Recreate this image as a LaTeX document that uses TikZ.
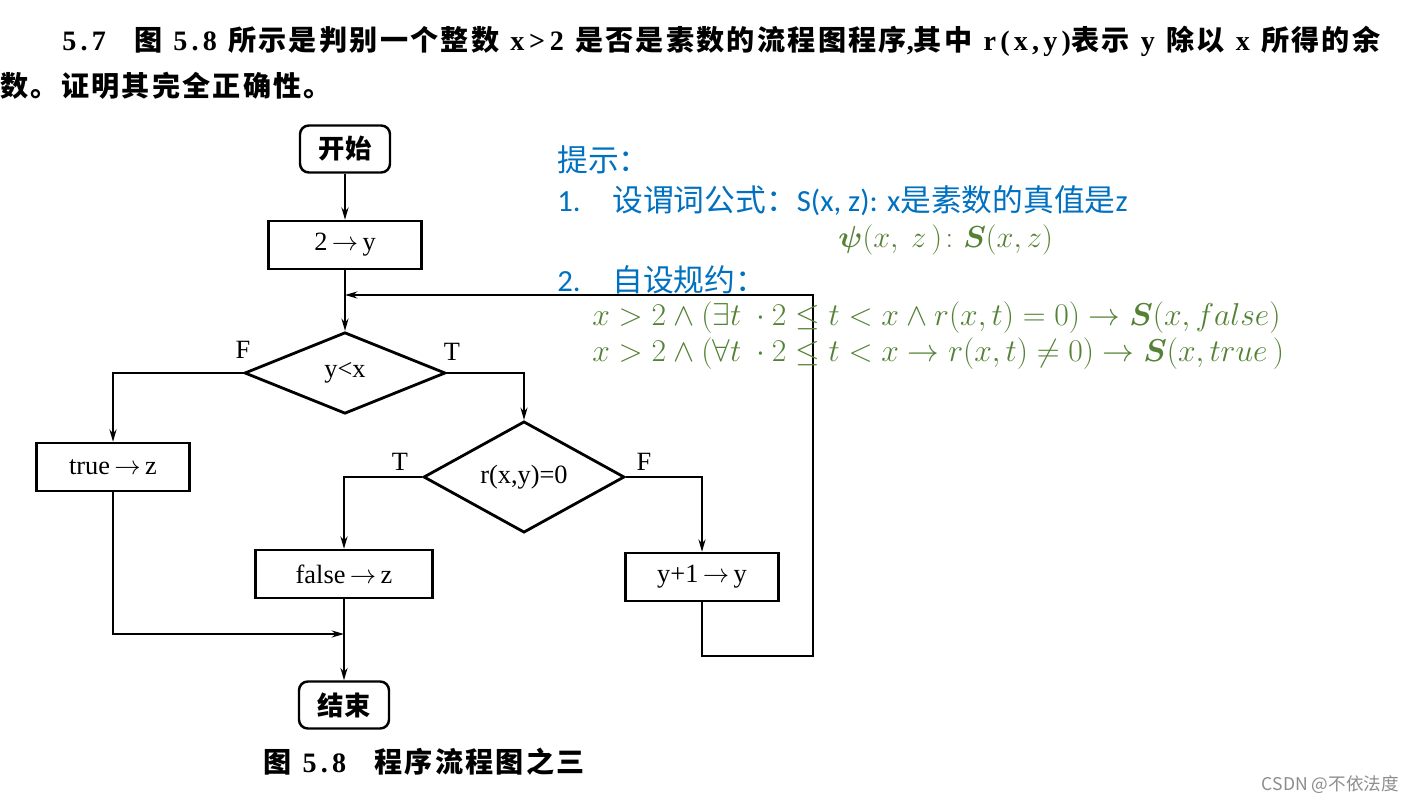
\RequirePackage{fix-cm}
\documentclass[tikz,border=0pt]{standalone}
\usepackage{amsmath,amssymb}
\usepackage[no-math]{fontspec}
\setmainfont{Liberation Serif}
\newfontfamily\cjk{Noto Sans CJK SC}
\newfontfamily\cjkq{Noto Sans CJK SC}[LetterSpace=8]
\newfontfamily\latq{Liberation Serif}[LetterSpace=15]
\newfontfamily\hintfont{Carlito}
\usetikzlibrary{shapes.geometric,arrows.meta}
\definecolor{hblue}{RGB}{0,112,192}
\definecolor{hgreen}{RGB}{84,130,53}
\definecolor{wmark}{RGB}{140,140,140}
\newcommand{\zh}[1]{{\cjk\bfseries #1}}
\newcommand{\zq}[1]{{\cjkq\bfseries #1}}
\newcommand{\zhr}[1]{{\cjk #1}}
\tikzset{every picture/.style={x=0.02cm,y=-0.02cm}}
\tikzset{term/.style={draw,rounded corners=5pt,line width=1.4pt,minimum width=1.8cm,minimum height=0.94cm,inner sep=0pt,font=\fontsize{15}{18}\selectfont}}
\tikzset{proc/.style={draw,line width=1.4pt,minimum width=3.06cm,minimum height=0.96cm,inner sep=0pt,font=\fontsize{15}{18}\selectfont}}
\tikzset{test/.style={diamond,draw,line width=1.6pt,minimum width=4.02cm,minimum height=1.63cm,inner sep=0pt,font=\fontsize{15}{18}\selectfont}}
\tikzset{edge/.style={-{Stealth[length=7pt,width=4pt]},line width=1.1pt}}
\tikzset{tf/.style={font=\fontsize{15}{18}\selectfont}}
\tikzset{hint/.style={anchor=west,inner sep=0pt,hblue,font=\hintfont\fontsize{17.5}{21}\selectfont}}
\tikzset{rule/.style={anchor=west,inner sep=0pt,hgreen,font=\fontsize{18}{21}\selectfont}}
\tikzset{quest/.style={anchor=base west,inner sep=0pt,font=\latq\fontsize{16}{19}\selectfont\bfseries}}

\begin{document}
\begin{tikzpicture}
\useasboundingbox (0,0) rectangle (1419,803);

\node [quest] (q1) at (62,51) {5.7\quad \zq{图} 5.8 \zq{所示是判别一个整数} x\,>\,2 \zq{是否是素数的流程图程序},\zq{其中} r(x,y)\zq{表示} y \zq{除以} x \zq{所得的余}};
\node [quest] (q2) at (0,97) {\zq{数。证明其完全正确性。}};

\node [term] (start) at (345,149) {\zh{开始}};
\node [proc] (init) at (345,245) {2\,$\rightarrow$\,y};
\node [test] (lt) at (345,373) {y<x};
\node [proc] (tz) at (113,467) {true\,$\rightarrow$\,z};
\node [test] (rem) at (524,477) {r(x,y)=0};
\node [proc,minimum width=3.54cm] (fz) at (344,574) {false\,$\rightarrow$\,z};
\node [proc] (inc) at (702,577) {y+1\,$\rightarrow$\,y};
\node [term] (stop) at (344,705) {\zh{结束}};

\node [tf] (f1) at (243,350) {F};
\node [tf] (t1) at (452,352) {T};
\node [tf] (t2) at (400,462) {T};
\node [tf] (f2) at (644,462) {F};

\coordinate (back) at (345,295);
\coordinate (loopc) at (813,656);
\coordinate (join) at (344,634);

\draw [edge] (start) -- (init);
\draw [edge] (init) -- (lt);
\draw [edge] (lt.west) -| (tz.north);
\draw [edge] (lt.east) -| (rem.north);
\draw [edge] (rem.west) -| (fz.north);
\draw [edge] (rem.east) -| (inc.north);
\draw [edge] (inc.south) |- (loopc) |- (back);
\draw [edge] (tz.south) |- (join);
\draw [edge] (fz) -- (stop);

\node [font=\latq\fontsize{16}{19}\selectfont\bfseries] (cap) at (424,762) {\zq{图} 5.8\quad \zq{程序流程图之三}};

\node [hint] (h0) at (557,160) {\zhr{提示：}};
\node [hint] (h1) at (557,201) {\makebox[1.1cm][l]{1.}\zhr{设谓词公式：}S(x, z): x\zhr{是素数的真值是}z};
\node [rule,font=\fontsize{17.3}{21}\selectfont] (h2) at (838,240) {$\boldsymbol{\psi}(x,\ z\,)\colon\boldsymbol{S}(x,z)$};
\node [hint] (h3) at (557,280) {\makebox[1.1cm][l]{2.}\zhr{自设规约：}};
\node [rule] (r1) at (592,318) {$x>2\wedge(\exists t\ \cdot 2\le t<x\wedge r(x,t)=0)\rightarrow\boldsymbol{S}(x,false)$};
\node [rule] (r2) at (592,354) {$x>2\wedge(\forall t\ \cdot 2\le t<x\rightarrow r(x,t)\ne0)\rightarrow\boldsymbol{S}(x,true\,)$};

\node [anchor=east,wmark,font=\cjk\fontsize{10}{12}\selectfont] (mark) at (1405,785) {CSDN @不依法度};
\end{tikzpicture}
\end{document}
